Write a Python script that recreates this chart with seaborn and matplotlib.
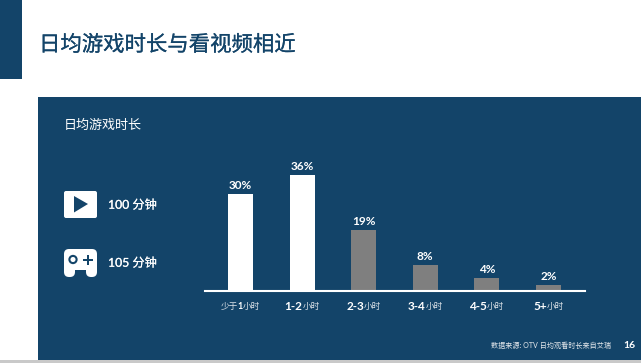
import matplotlib
matplotlib.use('Agg')
import matplotlib.pyplot as plt
from matplotlib.patches import Rectangle, FancyBboxPatch, Polygon, Circle
from matplotlib import patheffects
import seaborn as sns
import pandas as pd

categories = ['少于1小时', '1-2小时', '2-3小时', '3-4小时', '4-5小时', '5+小时']
shares = [30, 36, 19, 8, 4, 2]
bar_colors = ['#ffffff', '#ffffff', '#7f7f7f', '#7f7f7f', '#7f7f7f', '#7f7f7f']
tick_parts = [['少于', '1', '小时'], ['1-2', '小时'], ['2-3', '小时'],
              ['3-4', '小时'], ['4-5', '小时'], ['5+', '小时']]

navy = '#134469'
W, H = 641, 363


def thicken(color, width):
    # the cjk font has no medium weight here, so add a thin stroke
    return [patheffects.withStroke(linewidth=width, foreground=color)]


sns.set_theme(style="white")
plt.rcParams['font.family'] = ['Lato', 'Noto Sans CJK SC']

fig = plt.figure(figsize=(W / 100, H / 100), dpi=100, facecolor='white')

# background in pixel coordinates
bg = fig.add_axes([0, 0, 1, 1])
bg.set_xlim(0, W)
bg.set_ylim(H, 0)
bg.axis('off')
bg.add_patch(Rectangle((0, 0), 22, 79, color=navy, lw=0))
bg.add_patch(Rectangle((38, 97), W - 38, 263, color=navy, lw=0))
bg.add_patch(Rectangle((0, 360), W, 3, color='#c9c9c9', lw=0))

bg.text(39, 45, '日均游戏时长与看视频相近', color=navy, fontsize=15.4, va='center',
        family='Noto Sans CJK SC', path_effects=thicken(navy, 0.15))
bg.text(63.5, 125.5, '日均游戏时长', color='white', fontsize=9.4, va='center',
        family='Noto Sans CJK SC')
bg.text(108, 205, '100 分钟', color='white', fontsize=8.8, va='center',
        path_effects=thicken('white', 0.12))
bg.text(108, 263, '105 分钟', color='white', fontsize=8.8, va='center',
        path_effects=thicken('white', 0.12))
bg.text(611, 345.5, '数据来源: OTV 日均观看时长来自艾瑞', color='#e4e8ec', fontsize=5.1,
        ha='right', va='center')
bg.text(623, 345.5, '16', color='white', fontsize=7.5, va='center', fontweight='bold')

# video icon
bg.add_patch(FancyBboxPatch((64, 191), 33, 27, boxstyle='round,pad=0,rounding_size=2',
                            fc='white', ec='none', lw=0))
bg.add_patch(Polygon([[74, 196], [74, 212.5], [88, 204]], color=navy, lw=0))

# gamepad icon
bg.add_patch(FancyBboxPatch((64, 249), 33, 21, boxstyle='round,pad=0,rounding_size=5',
                            fc='white', ec='none', lw=0))
bg.add_patch(FancyBboxPatch((64, 256), 11, 21, boxstyle='round,pad=0,rounding_size=5',
                            fc='white', ec='none', lw=0))
bg.add_patch(FancyBboxPatch((86, 256), 11, 21, boxstyle='round,pad=0,rounding_size=5',
                            fc='white', ec='none', lw=0))
bg.add_patch(Circle((73, 259.5), 3.6, fc='white', ec=navy, lw=1.5))
bg.add_patch(Rectangle((83, 258.5), 10, 2.2, color=navy, lw=0))
bg.add_patch(Rectangle((86.9, 254.5), 2.2, 10, color=navy, lw=0))

# bars
df = pd.DataFrame({'category': categories, 'share': shares})
ax = fig.add_axes([205 / W, 1 - 291 / H, 380 / W, 194 / H], facecolor='none')
sns.barplot(data=df, x='category', y='share', hue='category', palette=bar_colors,
            width=0.406, saturation=1, legend=False, linewidth=0, edgecolor='none', ax=ax)
ax.set_xlim(-0.576, 5.593)
ax.set_ylim(0, 60)
ax.set_xlabel('')
ax.set_ylabel('')
ax.set_yticks([])
ax.set_xticks([])
sns.despine(ax=ax, left=True)
ax.spines['bottom'].set_color('white')
ax.spines['bottom'].set_linewidth(1.5)

for i, v in enumerate(shares):
    ax.annotate(f'{v}%', (i, v), xytext=(0, 2), textcoords='offset points', ha='center',
                va='bottom', color='white', fontsize=8.5, fontweight='bold')

# tick labels: latin part bigger than the chinese part
fig.canvas.draw()
renderer = fig.canvas.get_renderer()
for i, parts in enumerate(tick_parts):
    items = []
    for p in parts:
        is_cjk = any(ord(c) > 255 for c in p)
        t = ax.annotate(p, (i, 0), xytext=(0, -11), textcoords='offset points',
                        va='center', ha='left', color='white' if not is_cjk else '#dfe5ea',
                        fontsize=6.2 if is_cjk else (6.5 if len(parts) == 3 else 8.5),
                        fontweight='normal' if is_cjk else 'bold',
                        family='Noto Sans CJK SC' if is_cjk else 'Lato')
        items.append(t)
    widths = [t.get_window_extent(renderer).width for t in items]
    x = -sum(widths) / 2
    for t, w in zip(items, widths):
        t.set_position((x * 0.72, -11))
        x += w

fig.savefig('out.png', dpi=100)
plt.close()
